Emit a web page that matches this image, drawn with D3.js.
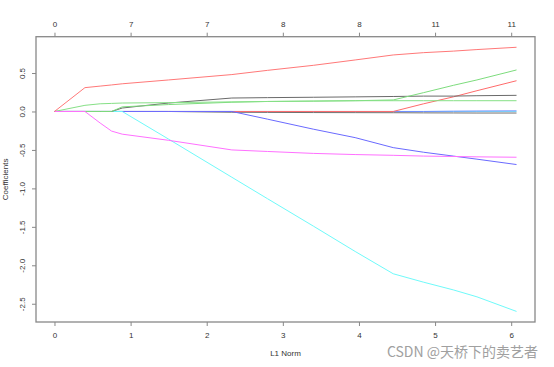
<!DOCTYPE html>
<html>
<head>
<meta charset="utf-8">
<script src="https://cdn.jsdelivr.net/npm/d3@7"></script>
<style>
  body { margin: 0; background: #fff; }
  text { font-family: "Liberation Sans", Arial, sans-serif; fill: #333; }
  .axis path, .axis line { stroke: #888; }
</style>
</head>
<body>
<div id="chart"></div>
<script>
// L1 norm of the coefficient vector along the path
var l1Norm = [0, 0.40, 0.60, 0.75, 0.89, 1.50, 2.33, 2.80, 3.40, 3.95, 4.45, 4.85, 5.24, 5.55, 6.07];

// coefficient paths, one per variable
var coefRed1    = [0, 0.31, 0.33, 0.345, 0.36, 0.41, 0.48, 0.535, 0.60, 0.67, 0.735, 0.765, 0.785, 0.805, 0.835];
var coefGreen1  = [0, 0.08, 0.10, 0.105, 0.11, 0.115, 0.125, 0.13, 0.135, 0.14, 0.14, 0.14, 0.14, 0.14, 0.14];
var coefGreen2  = [0, 0, 0, 0, 0.06, 0.09, 0.12, 0.13, 0.135, 0.14, 0.15, 0.245, 0.34, 0.41, 0.54];
var coefBlack1  = [0, 0, 0, 0, 0.045, 0.11, 0.175, 0.18, 0.185, 0.19, 0.195, 0.20, 0.20, 0.205, 0.21];
var coefBlack2  = [0, 0, 0, 0, 0, 0, -0.01, -0.012, -0.014, -0.015, -0.016, -0.018, -0.019, -0.02, -0.02];
var coefBlue1   = [0, 0, 0, 0, 0, 0, 0, -0.10, -0.23, -0.34, -0.47, -0.53, -0.58, -0.62, -0.69];
var coefCyan1   = [0, 0, 0, 0, 0, -0.36, -0.855, -1.135, -1.49, -1.82, -2.11, -2.22, -2.32, -2.41, -2.60];
var coefMagenta = [0, 0, -0.15, -0.255, -0.295, -0.375, -0.50, -0.52, -0.545, -0.56, -0.57, -0.58, -0.585, -0.59, -0.595];
var coefRed2    = [0, 0, 0, 0, 0, 0, 0, 0, 0, 0, 0, 0.10, 0.19, 0.27, 0.40];
var coefBlue2   = [0, 0, 0, 0, 0, 0, 0, 0, 0, 0, 0, 0, 0.004, 0.006, 0.008];
var coefCyan2   = [0, 0, 0, 0, 0, 0, 0, 0, 0, 0, 0, 0, 0, 0, 0];

// axis ticks
var xTicks = [0, 1, 2, 3, 4, 5, 6];
var dfLabels = ["0", "7", "7", "8", "8", "11", "11"];
var yTicks = [-2.5, -2.0, -1.5, -1.0, -0.5, 0.0, 0.5];

// drawing order, bottom to top (zero stretches show the last one drawn)
var series = [
  {v: coefBlack2, c: "#707070"},
  {v: coefCyan2, c: "#80f4f4"},
  {v: coefBlue2, c: "#6f8cff"},
  {v: coefRed2, c: "#ff6b6b"},
  {v: coefBlue1, c: "#6a6aff"},
  {v: coefCyan1, c: "#6ffafa"},
  {v: coefBlack1, c: "#6a6a6a"},
  {v: coefGreen2, c: "#7ddc7d"},
  {v: coefGreen1, c: "#86e086"},
  {v: coefMagenta, c: "#ff70ff"},
  {v: coefRed1, c: "#ff7878"}
];

var W = 554, H = 367;
var box = {L: 36, R: 535, T: 36.7, B: 322};

var svg = d3.select("#chart").append("svg")
  .attr("width", W)
  .attr("height", H);

// R style 4% padding on both axes
var xMin = d3.min(l1Norm), xMax = d3.max(l1Norm);
var xPad = (xMax - xMin) * 0.04;
var allY = d3.merge(series.map(function(s) {return s.v;}));
var yMin = d3.min(allY), yMax = d3.max(allY);
var yPad = (yMax - yMin) * 0.04;

var x = d3.scaleLinear()
  .domain([xMin - xPad, xMax + xPad])
  .range([box.L, box.R]);
var y = d3.scaleLinear()
  .domain([yMin - yPad, yMax + yPad])
  .range([box.B, box.T]);

// plain hyphen for negatives, like base R
function fmt(d) {return d.toFixed(1);}

svg.append("g")
  .attr("class", "axis axis-x")
  .attr("transform", "translate(0," + box.B + ")")
  .call(d3.axisBottom(x).tickValues(xTicks).tickSize(4).tickPadding(6)
    .tickFormat(function(d) {return d;}))
  .call(function(g) {
    g.select(".domain").remove();
    g.selectAll("text").attr("font-size", 8).style("fill", "#333");
  });

svg.append("g")
  .attr("class", "axis axis-top")
  .attr("transform", "translate(0," + box.T + ")")
  .call(d3.axisTop(x).tickValues(xTicks).tickSize(4).tickPadding(6)
    .tickFormat(function(d, i) {return dfLabels[i];}))
  .call(function(g) {
    g.select(".domain").remove();
    g.selectAll("text").attr("font-size", 8).style("fill", "#333");
  });

svg.append("g")
  .attr("class", "axis axis-y")
  .attr("transform", "translate(" + box.L + ",0)")
  .call(d3.axisLeft(y).tickValues(yTicks).tickSize(4).tickFormat(fmt))
  .call(function(g) {
    g.select(".domain").remove();
    g.selectAll("text")
      .attr("font-size", 8)
      .style("fill", "#333")
      .attr("text-anchor", "middle")
      .attr("x", null)
      .attr("dy", null)
      .attr("transform", "translate(-11,0) rotate(-90)")
      .attr("y", 0);
  });

// coefficient paths
var line = d3.line()
  .x(function(d, i) {return x(l1Norm[i]);})
  .y(function(d) {return y(d);});

svg.append("g")
  .selectAll("path")
  .data(series)
  .enter().append("path")
  .style("fill", "none")
  .style("stroke", function(d) {return d.c;})
  .style("stroke-width", 1)
  .attr("d", function(d) {return line(d.v);});

// plot frame
svg.append("rect")
  .attr("x", box.L)
  .attr("y", box.T)
  .attr("width", box.R - box.L)
  .attr("height", box.B - box.T)
  .style("fill", "none")
  .style("stroke", "#888")
  .style("stroke-width", 1.3);

svg.append("text")
  .attr("x", (box.L + box.R) / 2)
  .attr("y", 356)
  .attr("text-anchor", "middle")
  .attr("font-size", 8)
  .text("L1 Norm");

svg.append("text")
  .attr("transform", "translate(8," + ((box.T + box.B) / 2) + ") rotate(-90)")
  .attr("text-anchor", "middle")
  .attr("font-size", 8)
  .text("Coefficients");

// watermark
svg.append("text")
  .attr("x", 538)
  .attr("y", 357)
  .attr("text-anchor", "end")
  .attr("font-size", 14)
  .style("font-family", "'Noto Sans CJK SC', sans-serif")
  .style("fill", "#a0a0a0")
  .text("CSDN @天桥下的卖艺者");
</script>
</body>
</html>
